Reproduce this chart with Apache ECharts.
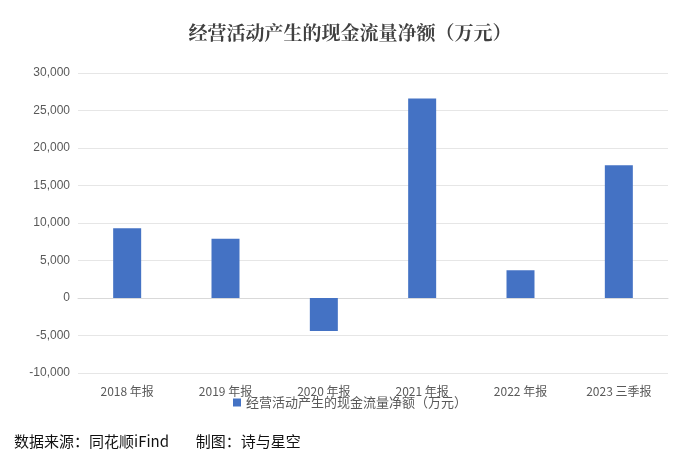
<!DOCTYPE html>
<html><head><meta charset="utf-8">
<script src="https://cdn.jsdelivr.net/npm/echarts@6/dist/echarts.min.js"></script>
<style>body{margin:0;background:#fff}#c{width:700px;height:460px}</style>
</head><body><div id="c"></div>
<script>
const categories = ['2018 年报','2019 年报','2020 年报','2021 年报','2022 年报','2023 三季报'];
const values = [9300, 7900, -4400, 26600, 3700, 17700];
const seriesName = '经营活动产生的现金流量净额（万元）';
const chart = echarts.init(document.getElementById('c'));
chart.setOption({
  animation:false,
  title:{text:seriesName,left:'center',top:18,textStyle:{fontFamily:'Noto Serif CJK SC, Noto Sans CJK SC',fontSize:19,fontWeight:'bold',color:'#404040'}},
  grid:{left:78,right:32,top:73,bottom:87},
  xAxis:{type:'category',data:categories,axisTick:{show:false},
    axisLine:{onZero:true,lineStyle:{color:'#d9d9d9'}},
    axisLabel:{color:'#595959',fontSize:12,fontFamily:'Noto Sans CJK SC',margin:12}},
  yAxis:{type:'value',min:-10000,max:30000,interval:5000,
    axisLabel:{color:'#595959',fontSize:12,formatter:v=>v.toLocaleString('en-US')},
    splitLine:{lineStyle:{color:'#e6e6e6'}},axisLine:{show:false}},
  legend:{bottom:46,left:'center',itemWidth:8,itemHeight:8,icon:'rect',
    textStyle:{color:'#595959',fontSize:13,fontFamily:'Noto Sans CJK SC'}},
  series:[{name:seriesName,type:'bar',data:values,barWidth:28,itemStyle:{color:'#4472c4'}}],
  graphic:[{type:'text',left:14,top:434,style:{text:'数据来源：同花顺iFind        制图：诗与星空',fontSize:15,fill:'#111',fontFamily:'Noto Sans CJK SC'}}]
});
</script></body></html>
